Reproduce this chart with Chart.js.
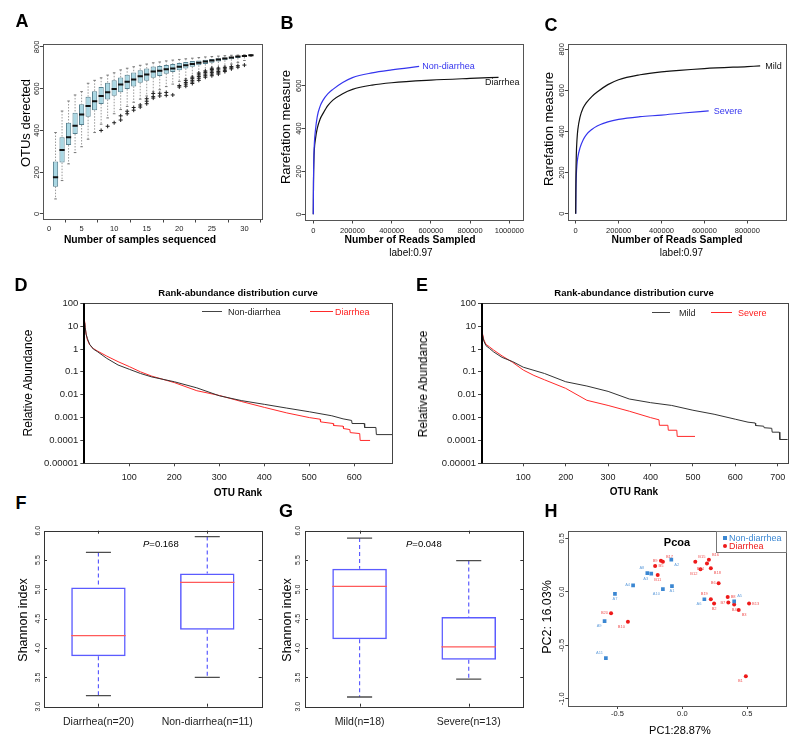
<!DOCTYPE html>
<html><head><meta charset="utf-8">
<script src="https://cdn.jsdelivr.net/npm/chart.js@4.4.1/dist/chart.umd.min.js"></script>
<style>
body{margin:0;background:#fff;width:800px;height:747px;position:relative;overflow:hidden;font-family:"Liberation Sans",Arial,sans-serif;}
canvas{position:absolute;z-index:1;}
.t{position:absolute;white-space:nowrap;color:#000;line-height:1;z-index:2;}
.c{transform:translate(-50%,-50%);}
.r{transform:translate(-50%,-50%) rotate(-90deg);}
.lm{transform:translate(0,-50%);}
.L{font-weight:bold;font-size:18px;}
.ln{position:absolute;height:0;z-index:2;}
</style></head><body>
<div class="t c L" style="left:22px;top:21px">A</div>
<div class="t c L" style="left:287px;top:23px">B</div>
<div class="t c L" style="left:551px;top:25px">C</div>
<div class="t c L" style="left:21px;top:285px">D</div>
<div class="t c L" style="left:422px;top:285px">E</div>
<div class="t c L" style="left:21px;top:503px">F</div>
<div class="t c L" style="left:286px;top:511px">G</div>
<div class="t c L" style="left:551px;top:511px">H</div>

<div class="t r" style="left:25px;top:123px;font-size:13px">OTUs derected</div>
<div class="t c" style="left:140px;top:240px;font-size:10.3px;font-weight:bold">Number of samples sequenced</div>
<div class="t r" style="left:285px;top:127px;font-size:13px">Rarefation measure</div>
<div class="t c" style="left:410px;top:240px;font-size:10.3px;font-weight:bold">Number of Reads Sampled</div>
<div class="t c" style="left:411px;top:253px;font-size:10px">label:0.97</div>
<div class="t r" style="left:548px;top:129px;font-size:13px">Rarefation measure</div>
<div class="t c" style="left:677px;top:240px;font-size:10.3px;font-weight:bold">Number of Reads Sampled</div>
<div class="t c" style="left:681.5px;top:253px;font-size:10px">label:0.97</div>

<div class="t c" style="left:238px;top:293px;font-size:9.5px;font-weight:bold">Rank-abundance distribution curve</div>
<div class="t r" style="left:28px;top:383px;font-size:12px">Relative Abundance</div>
<div class="t c" style="left:238px;top:493px;font-size:10px;font-weight:bold">OTU Rank</div>
<div class="ln" style="left:202px;top:311px;width:20px;border-top:1px solid #444"></div>
<div class="t lm" style="left:228px;top:312px;font-size:9px;color:#222">Non-diarrhea</div>
<div class="ln" style="left:310px;top:311px;width:23px;border-top:1px solid #ff2a2a"></div>
<div class="t lm" style="left:335px;top:312px;font-size:9px;color:#ff2020">Diarrhea</div>

<div class="t c" style="left:634px;top:293px;font-size:9.5px;font-weight:bold">Rank-abundance distribution curve</div>
<div class="t r" style="left:423px;top:384px;font-size:12px">Relative Abundance</div>
<div class="t c" style="left:634px;top:492px;font-size:10px;font-weight:bold">OTU Rank</div>
<div class="ln" style="left:652px;top:312px;width:18px;border-top:1px solid #444"></div>
<div class="t lm" style="left:679px;top:312.5px;font-size:9px;color:#222">Mild</div>
<div class="ln" style="left:711px;top:312px;width:21px;border-top:1px solid #ff2a2a"></div>
<div class="t lm" style="left:738px;top:312.5px;font-size:9px;color:#ff2020">Severe</div>

<div class="t r" style="left:23px;top:620px;font-size:12.5px">Shannon index</div>
<div class="t lm" style="left:143px;top:544px;font-size:9.5px"><i>P</i>=0.168</div>
<div class="t r" style="left:287px;top:620px;font-size:12.5px">Shannon index</div>
<div class="t lm" style="left:406px;top:544px;font-size:9.5px"><i>P</i>=0.048</div>

<div class="t r" style="left:547px;top:617px;font-size:12.5px">PC2: 16.03%</div>
<div class="t c" style="left:680px;top:730px;font-size:11px">PC1:28.87%</div>
<div class="t c" style="left:677px;top:542px;font-size:11px;font-weight:bold">Pcoa</div>
<div style="position:absolute;left:716px;top:531px;width:69px;height:20px;border:1px solid #777;background:#fff;z-index:2"></div>
<div style="position:absolute;left:723px;top:535.7px;width:4px;height:4px;background:#3b87d2;z-index:3"></div>
<div class="t lm" style="left:729px;top:538px;font-size:9px;color:#3b87d2;z-index:3">Non-diarrhea</div>
<div style="position:absolute;left:723px;top:543.7px;width:4px;height:4px;border-radius:50%;background:#ee1a1a;z-index:3"></div>
<div class="t lm" style="left:729px;top:546px;font-size:9px;color:#ee1a1a;z-index:3">Diarrhea</div>

<script>
// ---------- Panel A: OTUs detected vs number of samples ----------
const aSample = [1,2,3,4,5,6,7,8,9,10,11,12,13,14,15,16,17,18,19,20,21,22,23,24,25,26,27,28,29,30,31];
const aWhiskerLow = [72,160,240,294,322,358,390,430,460,480,500,515,535,550,565,585,595,610,622,635,648,660,672,682,692,700,708,718,726,735,755];
const aQ1 = [131,246,330,383,426,466,497,527,548,566,583,598,611,628,638,652,661,672,680,688,697,705,712,718,724,730,736,741,747,752,758];
const aMedian = [176,307,367,423,476,517,540,565,583,599,620,633,644,660,668,682,686,693,697,705,712,718,724,730,735,740,745,749,754,757,760];
const aQ3 = [251,367,437,485,525,562,588,608,628,641,654,667,677,688,697,706,709,714,718,723,728,732,735,738,742,746,749,752,756,759,762];
const aWhiskerHigh = [390,493,541,570,586,626,640,652,665,676,690,698,705,712,718,724,728,733,737,740,743,746,749,752,754,756,758,760,761,762,763];
const aOutlierSample = [8,9,10,11,11,12,12,13,13,14,14,15,15,15,16,16,16,17,17,18,18,19,20,20,21,21,21,21,22,22,22,22,22,23,23,23,23,23,24,24,24,24,24,25,25,25,25,25,25,26,26,26,26,26,27,27,27,27,28,28,28,29,29,30];
const aOutlierOTUs = [400,420,437,450,470,480,492,497,510,512,522,528,540,552,555,562,577,565,578,568,582,570,608,615,612,622,630,640,625,632,640,648,655,640,650,658,666,675,655,662,670,678,685,662,670,678,685,692,698,670,676,682,690,698,682,688,695,702,695,700,706,703,710,713];

// ---------- Panel B: rarefaction, Non-diarrhea vs Diarrhea ----------
const bNonDiarrheaReads = [0,1000,3000,6000,10000,20000,35000,50000,75000,100000,150000,200000,300000,400000,540000];
const bNonDiarrheaOTUs  = [0,150,270,340,385,455,505,533,563,583,615,638,660,674,690];
const bDiarrheaReads = [0,1000,3000,6000,10000,20000,35000,50000,75000,100000,150000,200000,300000,400000,600000,800000,945000];
const bDiarrheaOTUs  = [0,140,250,310,345,400,445,471,508,533,563,583,603,614,626,634,639];

// ---------- Panel C: rarefaction, Mild vs Severe ----------
const cMildReads = [0,1000,3000,6000,10000,20000,35000,50000,75000,100000,150000,200000,300000,400000,600000,800000,860000];
const cMildOTUs  = [0,170,290,360,410,470,515,540,570,592,628,652,676,690,706,716,719];
const cSevereReads = [0,1000,3000,6000,10000,20000,35000,50000,75000,100000,150000,200000,300000,400000,500000,620000];
const cSevereOTUs  = [0,110,190,240,275,320,360,385,410,427,447,459,472,480,490,500];

// ---------- Panel D / E: rank-abundance ----------
const abundTicks = [0.00001,0.0001,0.001,0.01,0.1,1,10,100];
const dNonDiarrheaRank = [1,2,4,7,12,20,30,50,75,100,125,150,200,250,300,350,400,450,500,550,575,594,595,622,623,648,649,686];
const dNonDiarrheaAbund = [14,9,4.5,2.8,1.6,1.0,0.75,0.39,0.2,0.13,0.085,0.06,0.037,0.02,0.009,0.0055,0.0038,0.0026,0.0018,0.0012,0.00088,0.00075,0.00055,0.00055,0.00037,0.00037,0.00018,0.00018];
const dDiarrheaRank = [1,2,4,7,12,20,30,50,75,100,125,150,200,250,300,350,400,450,500,524,525,553,554,575,576,590,591,612,613,635];
const dDiarrheaAbund = [16,9,4.5,2.5,1.5,1.05,0.8,0.49,0.28,0.17,0.1,0.065,0.034,0.015,0.0093,0.005,0.0028,0.0016,0.001,0.00085,0.00065,0.00055,0.00045,0.00042,0.00033,0.0003,0.00022,0.0002,0.0001,0.0001];
const eMildRank = [1,2,4,7,12,20,30,50,75,100,150,200,250,300,350,400,450,500,550,600,630,647,648,667,668,686,687,704,705,724];
const eMildAbund = [13,8,4,2.2,1.4,1.07,0.75,0.43,0.28,0.16,0.085,0.037,0.024,0.014,0.0065,0.0045,0.0034,0.0021,0.0014,0.00085,0.00063,0.00058,0.00045,0.00042,0.00036,0.00034,0.00023,0.00023,0.00011,0.00011];
const eSevereRank = [1,2,4,7,12,20,30,50,75,100,125,150,200,250,300,350,400,420,421,441,442,462,463,505];
const eSevereAbund = [15,9,4.5,2.5,1.6,1.25,0.9,0.5,0.26,0.12,0.07,0.045,0.019,0.0057,0.0034,0.0019,0.001,0.0008,0.00046,0.00046,0.00028,0.00028,0.00015,0.00015];

// ---------- Panel F / G: Shannon index ----------
const fGroups = ['Diarrhea(n=20)','Non-diarrhea(n=11)'];
const fLow = [3.19,3.5], fQ1 = [3.86,4.31], fMedian = [4.21,5.12], fQ3 = [5.03,5.27], fHigh = [5.63,5.9];
const gGroups = ['Mild(n=18)','Severe(n=13)'];
const gLow = [3.165,3.47], gQ1 = [4.15,3.8], gMedian = [5.05,4.02], gQ3 = [5.35,4.53], gHigh = [5.875,5.49];

// ---------- Panel H: PCoA ----------
const hNonLabels = ['A1','A2','A3','A4','A5','A6','A7','A8','A9','A10','A11'];
const hNonPC1 = [-0.08,-0.085,-0.24,-0.38,0.40,0.17,-0.52,-0.27,-0.60,-0.15,-0.59];
const hNonPC2 = [0.053,0.30,0.17,0.06,-0.09,-0.07,-0.02,0.175,-0.275,0.025,-0.62];
const hNonLabelSide = ['b','br','bl','l','tr','bl','b','tl','bl','bl','tl'];
const hDiaLabels = ['B1','B2','B3','B4','B5','B6','B7','B8','B9','B10','B11','B12','B13','B14','B15','B16','B17','B18','B19','B20'];
const hDiaPC1 = [0.49,0.245,0.435,0.40,-0.165,0.28,0.355,0.35,-0.21,-0.42,-0.19,0.14,0.515,0.19,0.10,0.205,-0.15,0.22,0.22,-0.55];
const hDiaPC2 = [-0.79,-0.11,-0.17,-0.12,0.29,0.08,-0.10,-0.05,0.24,-0.28,0.157,0.21,-0.11,0.265,0.28,0.30,0.28,0.22,-0.07,-0.2];
const hDiaLabelSide = ['bl','b','br','b','b','l','l','r','t','bl','b','bl','r','bl','tr','tr','tr','br','tl','l'];

// ================= helpers =================
const FONT = '"Liberation Sans", Arial, sans-serif';
Chart.defaults.font.family = FONT;

const pairs = (xs, ys) => xs.map((x, i) => ({x, y: ys[i]}));
function whiskers(xs, lo, q1, q3, hi) {
  const d = [];
  xs.forEach((x, i) => { d.push({x, y: hi[i]}, {x, y: q3[i]}, {x, y: null}, {x, y: q1[i]}, {x, y: lo[i]}, {x, y: null}); });
  return d;
}
function hseg(xs, ys, half) {
  const d = [];
  xs.forEach((x, i) => { d.push({x: x - half, y: ys[i]}, {x: x + half, y: ys[i]}, {x, y: null}); });
  return d;
}
function caps(xs, lo, hi, half) { return hseg(xs.concat(xs), lo.concat(hi), half); }

const framePlugin = { id: 'frame',
  afterDatasetsDraw(chart, args, o) {
    if (!o || !o.color) return;
    const {left, top, right, bottom} = chart.chartArea, ctx = chart.ctx;
    ctx.save(); ctx.strokeStyle = o.color; ctx.lineWidth = o.width || 1;
    ctx.strokeRect(Math.round(left) + 0.5, Math.round(top) + 0.5, Math.round(right - left), Math.round(bottom - top));
    if (o.leftWidth) { ctx.lineWidth = o.leftWidth; ctx.strokeStyle = o.leftColor; ctx.beginPath();
      ctx.moveTo(Math.round(left) + 1, top); ctx.lineTo(Math.round(left) + 1, bottom); ctx.stroke(); }
    ctx.restore();
  } };
const rotYPlugin = { id: 'rotY',
  afterDraw(chart, args, o) {
    if (!o || !o.enabled) return;
    const s = chart.scales.y, ctx = chart.ctx;
    ctx.save(); ctx.font = o.size + 'px ' + FONT; ctx.fillStyle = '#222'; ctx.textAlign = 'center'; ctx.textBaseline = 'middle';
    s.ticks.forEach(t => { const py = s.getPixelForValue(t.value); ctx.save();
      ctx.translate(chart.chartArea.left - o.offset, py); ctx.rotate(-Math.PI / 2); ctx.fillText(t.label, 0, 0); ctx.restore(); });
    ctx.restore();
  } };
const inTicksPlugin = { id: 'inTicks',
  afterDraw(chart, args, o) {
    if (!o || !o.enabled) return;
    const {left, top, right, bottom} = chart.chartArea, ctx = chart.ctx, L = o.len;
    ctx.save(); ctx.strokeStyle = o.color; ctx.lineWidth = 1; ctx.beginPath();
    chart.scales.x.ticks.forEach(t => { const p = Math.round(chart.scales.x.getPixelForValue(t.value)) + 0.5;
      ctx.moveTo(p, bottom); ctx.lineTo(p, bottom - L); ctx.moveTo(p, top); ctx.lineTo(p, top + L); });
    chart.scales.y.ticks.forEach(t => { const p = Math.round(chart.scales.y.getPixelForValue(t.value)) + 0.5;
      ctx.moveTo(left, p); ctx.lineTo(left + L, p); ctx.moveTo(right, p); ctx.lineTo(right - L, p); });
    ctx.stroke(); ctx.restore();
  } };
const endLabelPlugin = { id: 'endLabel',
  afterDatasetsDraw(chart, args, o) {
    if (!o || !o.items) return;
    const ctx = chart.ctx; ctx.save(); ctx.font = o.size + 'px ' + FONT; ctx.textAlign = 'left'; ctx.textBaseline = 'middle';
    o.items.forEach(it => { const meta = chart.getDatasetMeta(it.ds); const pt = meta.data[meta.data.length - 1];
      ctx.fillStyle = it.color; ctx.fillText(chart.data.datasets[it.ds].label, pt.x + it.dx, pt.y + it.dy); });
    ctx.restore();
  } };
const ptLabelPlugin = { id: 'ptLabels',
  afterDatasetsDraw(chart, args, o) {
    if (!o || !o.enabled) return;
    const ctx = chart.ctx; ctx.save(); ctx.font = o.size + 'px ' + FONT; ctx.textBaseline = 'middle';
    chart.data.datasets.forEach((ds, di) => {
      if (!ds.pointLabels) return;
      const meta = chart.getDatasetMeta(di); ctx.fillStyle = ds.labelColor;
      meta.data.forEach((pt, i) => {
        const side = ds.labelSide[i]; let dx = 0, dy = 0, al = 'center';
        if (side.includes('l')) { dx = -3; al = 'right'; }
        if (side.includes('r')) { dx = 3; al = 'left'; }
        if (side.includes('t')) dy = -5;
        if (side.includes('b')) dy = 5;
        ctx.textAlign = al; ctx.fillText(ds.pointLabels[i], pt.x + dx, pt.y + dy);
      });
    });
    ctx.restore();
  } };
Chart.register(framePlugin, rotYPlugin, inTicksPlugin, endLabelPlugin, ptLabelPlugin);

// ticks at multiples of `step` inside [min, max] (optionally only >= from, or an explicit list)
function stepTicks(min, max, step, from, list) {
  if (list) return list.map(v => ({value: v}));
  const t = [];
  for (let k = Math.ceil(min / step - 1e-9); k * step <= max + 1e-9; k++) {
    const v = +(k * step).toFixed(6);
    if (from === undefined || v >= from) t.push({value: v === 0 ? 0 : v});
  }
  return t;
}
function axis(type, min, max, step, o = {}) {
  return {
    type, min, max, offset: false,
    ticks: { stepSize: step, includeBounds: false, autoSkip: false, maxRotation: 0, minRotation: 0,
      display: o.labels !== false, font: { family: FONT, size: o.size || 7.5 }, color: '#222',
      padding: (o.pad !== undefined ? o.pad : 1), callback: o.cb || (v => String(v)) },
    grid: { display: o.grid !== false, drawOnChartArea: false, drawTicks: o.grid !== false,
      tickLength: (o.tl !== undefined ? o.tl : 3.5), color: '#444', lineWidth: 1 },
    border: { display: false },
    afterBuildTicks: s => { s.ticks = stepTicks(min, max, step, o.from, o.list); }
  };
}
function logAxis() {
  return { type: 'logarithmic', min: abundTicks[0], max: abundTicks[abundTicks.length - 1],
    ticks: { autoSkip: false, font: { family: FONT, size: 9.5 }, color: '#222', padding: 2, callback: v => String(v) },
    grid: { display: true, drawOnChartArea: false, drawTicks: true, tickLength: 3, color: '#444' },
    border: { display: false },
    afterBuildTicks: s => { s.ticks = abundTicks.map(v => ({value: v})); } };
}

function makePanel(cv, fr, config) {
  const c = document.createElement('canvas');
  c.width = cv[2]; c.height = cv[3];
  Object.assign(c.style, {left: cv[0] + 'px', top: cv[1] + 'px', width: cv[2] + 'px', height: cv[3] + 'px'});
  document.body.appendChild(c);
  const o = config.options;
  o.responsive = false; o.animation = false; o.devicePixelRatio = 1; o.maintainAspectRatio = false;
  o.layout = { padding: { left: 0, top: fr[1] - cv[1], right: cv[0] + cv[2] - fr[2], bottom: 0 } };
  o.plugins = Object.assign({ legend: { display: false }, tooltip: { enabled: false } }, o.plugins || {});
  const yW = fr[0] - cv[0], xH = cv[1] + cv[3] - fr[3];
  o.scales.x.afterFit = s => { s.height = xH; };
  o.scales.y.afterFit = s => { s.width = yW; };
  return new Chart(c, config);
}

// ================= Panel A =================
makePanel([0, 30, 270, 205], [43.3, 44, 262, 219], {
  type: 'bar',
  data: { datasets: [
    { type: 'line', data: whiskers(aSample, aWhiskerLow, aQ1, aQ3, aWhiskerHigh), borderColor: '#9a9a9a', borderWidth: 1, borderDash: [1.5, 1.5], pointRadius: 0, order: 4 },
    { type: 'line', data: caps(aSample, aWhiskerLow, aWhiskerHigh, 0.2), borderColor: '#777', borderWidth: 1, pointRadius: 0, order: 3 },
    { type: 'bar', data: aSample.map((x, i) => ({x, y: [aQ1[i], aQ3[i]]})), backgroundColor: '#a9d7e3', borderColor: '#56808f', borderWidth: 1, borderSkipped: false, barPercentage: 0.8, categoryPercentage: 1, order: 2 },
    { type: 'line', data: hseg(aSample, aMedian, 0.4), borderColor: '#111', borderWidth: 2, pointRadius: 0, order: 1 },
    { type: 'line', data: pairs(aOutlierSample, aOutlierOTUs), showLine: false, pointStyle: 'cross', pointRadius: 2, pointBorderColor: '#222', pointBorderWidth: 1, order: 0 }
  ] },
  options: { scales: { x: axis('linear', -0.88, 32.7, 5, { pad: 2 }), y: axis('linear', -24, 814, 200, { labels: false }) },
    plugins: { frame: { color: '#555' }, rotY: { enabled: true, size: 7.5, offset: 6 } } }
});

// ================= Panel B =================
makePanel([270, 30, 265, 205], [305, 44.3, 523.3, 220], {
  type: 'scatter',
  data: { datasets: [
    { label: 'Non-diarrhea', data: pairs(bNonDiarrheaReads, bNonDiarrheaOTUs), showLine: true, borderColor: '#3535ee', borderWidth: 1.2, pointRadius: 0, cubicInterpolationMode: 'monotone' },
    { label: 'Diarrhea', data: pairs(bDiarrheaReads, bDiarrheaOTUs), showLine: true, borderColor: '#111', borderWidth: 1.2, pointRadius: 0, cubicInterpolationMode: 'monotone' }
  ] },
  options: { scales: { x: axis('linear', -42300, 1071400, 200000, { pad: 2.5 }), y: axis('linear', -26.6, 793.3, 200, { labels: false }) },
    plugins: { frame: { color: '#555' }, rotY: { enabled: true, size: 7.5, offset: 6 },
      endLabel: { size: 9, items: [{ ds: 0, dx: 3, dy: 0, color: '#3535ee' }, { ds: 1, dx: -13.5, dy: 5.4, color: '#111' }] } } }
});

// ================= Panel C =================
makePanel([535, 30, 265, 205], [568.3, 44.3, 786.7, 220], {
  type: 'scatter',
  data: { datasets: [
    { label: 'Mild', data: pairs(cMildReads, cMildOTUs), showLine: true, borderColor: '#111', borderWidth: 1.2, pointRadius: 0, cubicInterpolationMode: 'monotone' },
    { label: 'Severe', data: pairs(cSevereReads, cSevereOTUs), showLine: true, borderColor: '#3535ee', borderWidth: 1.2, pointRadius: 0, cubicInterpolationMode: 'monotone' }
  ] },
  options: { scales: { x: axis('linear', -34500, 983700, 200000, { pad: 2.5 }), y: axis('linear', -30.7, 824.3, 200, { labels: false }) },
    plugins: { frame: { color: '#555' }, rotY: { enabled: true, size: 7.5, offset: 6 },
      endLabel: { size: 9, items: [{ ds: 0, dx: 5, dy: 0.5, color: '#111' }, { ds: 1, dx: 5, dy: 1, color: '#3535ee' }] } } }
});

// ================= Panel D =================
makePanel([0, 290, 400, 200], [83.3, 303.3, 392.7, 463.3], {
  type: 'scatter',
  data: { datasets: [
    { label: 'Non-diarrhea', data: pairs(dNonDiarrheaRank, dNonDiarrheaAbund), showLine: true, borderColor: '#333', borderWidth: 1, pointRadius: 0 },
    { label: 'Diarrhea', data: pairs(dDiarrheaRank, dDiarrheaAbund), showLine: true, borderColor: '#ff2a2a', borderWidth: 1, pointRadius: 0 }
  ] },
  options: { scales: { x: axis('linear', -2.2, 685.3, 100, { size: 9, tl: 3, pad: 5.5, from: 100 }), y: logAxis() },
    plugins: { frame: { color: '#444', leftWidth: 2, leftColor: '#000' } } }
});

// ================= Panel E =================
makePanel([400, 290, 400, 200], [481, 303.3, 787.7, 463.3], {
  type: 'scatter',
  data: { datasets: [
    { label: 'Mild', data: pairs(eMildRank, eMildAbund), showLine: true, borderColor: '#333', borderWidth: 1, pointRadius: 0 },
    { label: 'Severe', data: pairs(eSevereRank, eSevereAbund), showLine: true, borderColor: '#ff2a2a', borderWidth: 1, pointRadius: 0 }
  ] },
  options: { scales: { x: axis('linear', 0.24, 723.6, 100, { size: 9, tl: 3, pad: 5.5, from: 100 }), y: logAxis() },
    plugins: { frame: { color: '#444', leftWidth: 2, leftColor: '#000' } } }
});

// ================= Panels F, G =================
function shannonPanel(cv, fr, groups, lo, q1, med, q3, hi, labelOffset) {
  const pos = groups.map((g, i) => i + 1);
  return makePanel(cv, fr, {
    type: 'bar',
    data: { datasets: [
      { type: 'line', data: whiskers(pos, lo, q1, q3, hi), borderColor: '#5b5bff', borderWidth: 1.2, borderDash: [4, 3], pointRadius: 0, order: 4 },
      { type: 'line', data: caps(pos, lo, hi, 0.115), borderColor: '#4d4d4d', borderWidth: 1.3, pointRadius: 0, order: 3 },
      { type: 'bar', data: pos.map((x, i) => ({x, y: [q1[i], q3[i]]})), backgroundColor: 'rgba(255,255,255,0)', borderColor: '#5b5bff', borderWidth: 1.5, borderSkipped: false, barPercentage: 0.5, categoryPercentage: 1, order: 2 },
      { type: 'line', data: hseg(pos, med, 0.25), borderColor: '#ff5a5a', borderWidth: 1.3, pointRadius: 0, order: 1 }
    ] },
    options: { scales: {
        x: axis('linear', 0.5, 2.5, 1, { size: 10.5, pad: 9.5, grid: false, list: pos, cb: v => groups[Math.round(v) - 1] }),
        y: axis('linear', 3, 6, 0.5, { labels: false, grid: false, cb: v => v.toFixed(1) }) },
      plugins: { frame: { color: '#333' }, rotY: { enabled: true, size: 7, offset: labelOffset }, inTicks: { enabled: true, len: 3, color: '#333' } } }
  });
}
shannonPanel([0, 515, 270, 232], [44, 530.7, 261.7, 706.7], fGroups, fLow, fQ1, fMedian, fQ3, fHigh, 6);
shannonPanel([270, 515, 265, 232], [305, 530.7, 523.3, 706.7], gGroups, gLow, gQ1, gMedian, gQ3, gHigh, 6.7);

// ================= Panel H =================
makePanel([535, 515, 265, 232], [568.3, 531, 786, 706], {
  type: 'scatter',
  data: { datasets: [
    { label: 'Non-diarrhea', data: pairs(hNonPC1, hNonPC2), pointStyle: 'rect', pointRadius: 2.6, pointBackgroundColor: '#3b87d2', pointBorderWidth: 0,
      pointLabels: hNonLabels, labelSide: hNonLabelSide, labelColor: '#6aa3dd' },
    { label: 'Diarrhea', data: pairs(hDiaPC1, hDiaPC2), pointStyle: 'circle', pointRadius: 2, pointBackgroundColor: '#ee1a1a', pointBorderWidth: 0,
      pointLabels: hDiaLabels, labelSide: hDiaLabelSide, labelColor: '#f05555' }
  ] },
  options: { scales: { x: axis('linear', -0.88, 0.80, 0.5, { tl: 3, pad: 0.5, cb: v => v.toFixed(1) }), y: axis('linear', -1.068, 0.568, 0.5, { labels: false, tl: 3, cb: v => v.toFixed(1) }) },
    plugins: { frame: { color: '#555' }, rotY: { enabled: true, size: 7.5, offset: 6.6 }, ptLabels: { enabled: true, size: 4 } } }
});
</script>
</body></html>
